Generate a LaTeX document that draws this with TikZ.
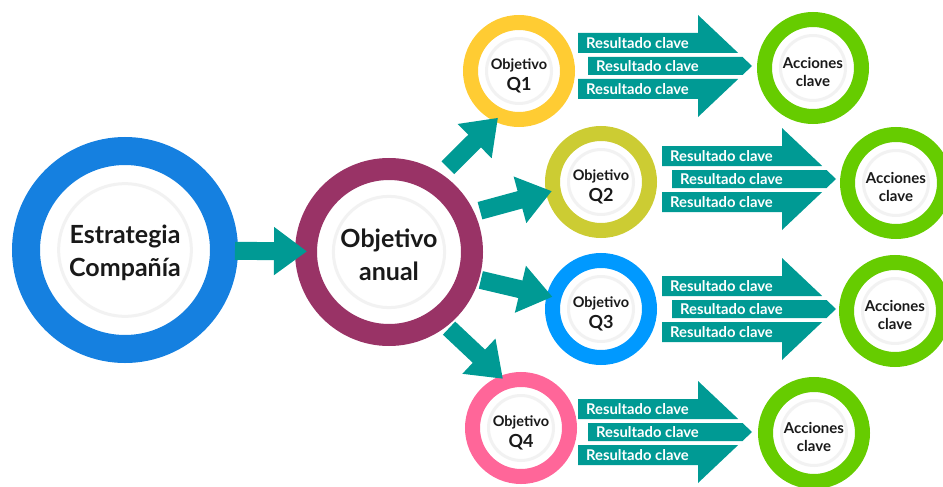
\documentclass[tikz,border=0pt]{standalone}
\usepackage{fontspec}
\setmainfont{Lato}
\usetikzlibrary{arrows.meta,calc}

\definecolor{stratblue}{HTML}{1580E0}
\definecolor{annualpurple}{HTML}{993366}
\definecolor{arrowteal}{HTML}{009A94}
\definecolor{qyellow}{HTML}{FFCC33}
\definecolor{qolive}{HTML}{CCCC33}
\definecolor{qblue}{HTML}{0099FF}
\definecolor{qpink}{HTML}{FF6699}
\definecolor{actgreen}{HTML}{66CC00}

\begin{document}
\begin{tikzpicture}[x=1pt, y=-1pt,
  every node/.style={font=\bfseries, text=black!90},
  ring/.style n args={3}{circle, draw=#1, fill=white, line width=#2,
    minimum size=#3, inner sep=0pt, outer sep=#2/2,
    path picture={\draw[black!5, line width=3pt]
      let \p1=($(path picture bounding box.east)-(path picture bounding box.center)$)
      in (path picture bounding box.center) circle[radius=0.67*\x1];}},
  bigtext/.style={align=center, yshift=-3pt, font=\bfseries\fontsize{25}{33}\selectfont},
  qtext/.style={align=center, yshift=-5pt, font=\bfseries\fontsize{14.5}{21}\selectfont},
  acttext/.style={align=center, yshift=-3.5pt, font=\bfseries\fontsize{15}{18}\selectfont},
  krtext/.style={text=white, font=\bfseries\fontsize{14.8}{15}\selectfont,
    anchor=west, inner sep=0pt},
  krbar/.style={fill=arrowteal},
  conn/.style={draw=arrowteal, line width=18pt, -{Triangle[length=33pt, width=46pt]}}]
  \useasboundingbox (0,0) rectangle (943,487);

  % Nodes
  \node[ring={stratblue}{28pt}{198pt},
    label={[bigtext]center:Estrategia\\Compañía}] (est) at (125,250) {};
  \node[ring={annualpurple}{22pt}{166pt},
    label={[bigtext]center:Objetivo\\anual}] (anual) at (389,252) {};

  \node[ring={qyellow}{15pt}{97pt},
    label={[qtext]center:Objetivo\\{\fontsize{18}{21}\selectfont Q1}}] (q1) at (519,71) {};
  \node[ring={qolive}{15pt}{97pt},
    label={[qtext]center:Objetivo\\{\fontsize{18}{21}\selectfont Q2}}] (q2) at (601,182) {};
  \node[ring={qblue}{15pt}{97pt},
    label={[qtext]center:Objetivo\\{\fontsize{18}{21}\selectfont Q3}}] (q3) at (601,309) {};
  \node[ring={qpink}{15pt}{97pt},
    label={[qtext]center:Objetivo\\{\fontsize{18}{21}\selectfont Q4}}] (q4) at (521,428) {};

  \node[ring={actgreen}{15pt}{97pt},
    label={[acttext]center:Acciones\\clave}] (acc1) at (813,68) {};
  \node[ring={actgreen}{15pt}{97pt},
    label={[acttext]center:Acciones\\clave}] (acc2) at (896,183) {};
  \node[ring={actgreen}{15pt}{97pt},
    label={[acttext]center:Acciones\\clave}] (acc3) at (895,311) {};
  \node[ring={actgreen}{15pt}{97pt},
    label={[acttext]center:Acciones\\clave}] (acc4) at (814,433) {};

  % Connectors
  \draw[conn, shorten <=-3pt, shorten >=-12pt] (est) -- (anual);
  \draw[conn, shorten <=9pt, shorten >=-5pt] (anual.56) -- (q1.244);
  \draw[conn, shorten <=6pt, shorten >=-6pt] (anual.25) -- (q2.191);
  \draw[conn, shorten <=2pt, shorten >=-6pt] (anual.-17) -- (q3.166);
  \draw[conn, shorten <=3pt, shorten >=-4pt] (anual.-52) -- (q4.112);

  % Key result arrows
  \foreach \k/\px/\py in {1/578/66, 2/662/179, 3/662/309, 4/578/432}{
    \begin{scope}[shift={(\px,\py)}]
      \fill[krbar] (0,-33) -- (120,-33) -- (120,-51) -- (160.2,-13) -- (0,-13) -- cycle;
      \fill[krbar] (10,-9) -- (164.5,-9) -- (174,0) -- (164.5,9) -- (10,9) -- cycle;
      \fill[krbar] (0,13) -- (160.2,13) -- (120,51) -- (120,33) -- (0,33) -- cycle;
      \node[krtext] (kr\k a) at (8,-23) {Resultado clave};
      \node[krtext] (kr\k b) at (18,0) {Resultado clave};
      \node[krtext] (kr\k c) at (8,23) {Resultado clave};
    \end{scope}
  }
\end{tikzpicture}
\end{document}
